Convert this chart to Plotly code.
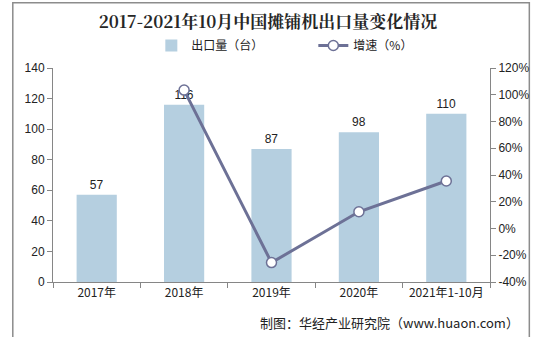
import plotly.graph_objects as go

years = ["2017年", "2018年", "2019年", "2020年", "2021年1-10月"]
exports = [57, 116, 87, 98, 110]
growth = [None, 103.5, -25.5, 12.5, 35.5]

left_ticks = [0, 20, 40, 60, 80, 100, 120, 140]
right_ticks = [-40, -20, 0, 20, 40, 60, 80, 100, 120]
right_labels = [f"{v}%" for v in right_ticks]

font_cn = "Noto Sans CJK SC, Arial, sans-serif"
axis_col = "#868686"

fig = go.Figure()
fig.add_trace(go.Bar(
    x=years, y=exports, name="出口量（台）",
    marker=dict(color="#b5cfe0", line=dict(width=0)),
    width=0.46,
    text=[str(v) for v in exports], textposition="outside",
    textfont=dict(size=12, color="#222222", family="Arial"),
    cliponaxis=False,
))
fig.add_trace(go.Scatter(
    x=years, y=growth, name="增速（%）", yaxis="y2", mode="lines+markers",
    line=dict(color="#6d7196", width=3),
    marker=dict(size=10, color="white", line=dict(color="#6d7196", width=1.5)),
    connectgaps=False,
))

fig.update_layout(
    width=536, height=337,
    margin=dict(l=53, r=46, t=68, b=55),
    paper_bgcolor="white", plot_bgcolor="white",
    title=dict(text="<b>2017-2021年10月中国摊铺机出口量变化情况</b>",
               x=0.5, xanchor="center", y=0.935, yanchor="middle",
               font=dict(size=17, color="#262626", family="Noto Serif CJK SC, Noto Sans CJK SC, serif")),
    legend=dict(orientation="h", x=0.225, xanchor="left", y=1.105, yanchor="middle",
                font=dict(size=12, color="#222222", family=font_cn),
                itemwidth=30, entrywidth=117, bgcolor="rgba(0,0,0,0)", traceorder="normal"),
    showlegend=True,
    xaxis=dict(type="category", showline=True, linecolor=axis_col, linewidth=1,
               ticks="outside", tickson="boundaries", ticklen=5, tickcolor=axis_col,
               tickfont=dict(size=12, color="#222222", family=font_cn)),
    yaxis=dict(range=[0, 140], tickvals=left_ticks, showgrid=False, zeroline=False,
               showline=True, linecolor=axis_col, ticks="outside", ticklen=5, tickcolor=axis_col,
               tickfont=dict(size=12, color="#222222", family="Arial")),
    yaxis2=dict(range=[-40, 120], tickmode="array", tickvals=right_ticks, ticktext=right_labels,
                overlaying="y", side="right", showgrid=False, zeroline=False, automargin=False,
                showline=True, linecolor=axis_col, ticks="outside", ticklen=5, tickcolor=axis_col,
                tickfont=dict(size=12, color="#222222", family="Arial")),
    shapes=[dict(type="rect", xref="paper", yref="paper", x0=-0.092, x1=1.09, y0=-0.26, y1=1.305,
                 line=dict(color="#8c8c8c", width=1.5), layer="below")],
    annotations=[dict(text="制图：华经产业研究院（www.huaon.com）", xref="paper", yref="paper",
                      x=1.07, y=-0.19, xanchor="right", yanchor="middle", showarrow=False,
                      font=dict(size=13, color="#222222", family=font_cn))],
)

fig.write_html("out.html")
